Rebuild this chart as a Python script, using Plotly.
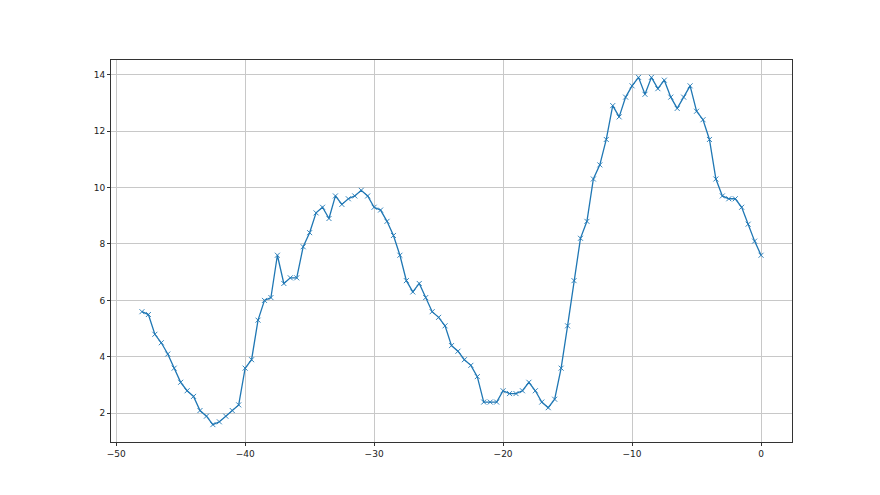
import numpy as np
import plotly.graph_objects as go

x_vals = [-48 + 0.5 * i for i in range(97)]
y_vals = [5.6, 5.5, 4.8, 4.5, 4.1, 3.6, 3.1, 2.8, 2.6, 2.1, 1.9, 1.6, 1.7, 1.9, 2.1, 2.3,
          3.6, 3.9, 5.3, 6.0, 6.1, 7.6, 6.6, 6.8, 6.8, 7.9, 8.4, 9.1, 9.3, 8.9, 9.7, 9.4,
          9.6, 9.7, 9.9, 9.7, 9.3, 9.2, 8.8, 8.3, 7.6, 6.7, 6.3, 6.6, 6.1, 5.6, 5.4, 5.1,
          4.4, 4.2, 3.9, 3.7, 3.3, 2.4, 2.4, 2.4, 2.8, 2.7, 2.7, 2.8, 3.1, 2.8, 2.4, 2.2,
          2.5, 3.6, 5.1, 6.7, 8.2, 8.8, 10.3, 10.8, 11.7, 12.9, 12.5, 13.2, 13.6, 13.9, 13.3, 13.9,
          13.5, 13.8, 13.2, 12.8, 13.2, 13.6, 12.7, 12.4, 11.7, 10.3, 9.7, 9.6, 9.6, 9.3, 8.7, 8.1,
          7.6]
x_ticks = [-50, -40, -30, -20, -10, 0]
y_ticks = [2, 4, 6, 8, 10, 12, 14]

fig = go.Figure()
fig.add_trace(go.Scatter(
    x=x_vals, y=y_vals, mode="lines+markers",
    line=dict(color="#1f77b4", width=1.3),
    marker=dict(symbol="x-thin", size=5, line=dict(color="#1f77b4", width=0.9)),
    showlegend=False,
))

xmin, xmax = min(x_vals), max(x_vals)
ymin, ymax = min(y_vals), max(y_vals)
xpad = (xmax - xmin) * 0.05
ypad = (ymax - ymin) * 0.05

axis_common = dict(
    showline=True, linecolor="#333333", linewidth=1, mirror=True,
    showgrid=True, gridcolor="#c8c8c8", gridwidth=1,
    ticks="outside", ticklen=3, tickcolor="#333333", tickwidth=1,
    zeroline=False, tickfont=dict(family="DejaVu Sans", size=9, color="#222222"),
)
fig.update_xaxes(range=[xmin - xpad, xmax + xpad], tickvals=x_ticks, **axis_common)
fig.update_yaxes(range=[ymin - ypad, ymax + ypad], tickvals=y_ticks, **axis_common)

fig.update_layout(
    width=866, height=481,
    margin=dict(l=103, r=82, t=52, b=47),
    paper_bgcolor="white", plot_bgcolor="white",
)
fig.write_html("out.html")
